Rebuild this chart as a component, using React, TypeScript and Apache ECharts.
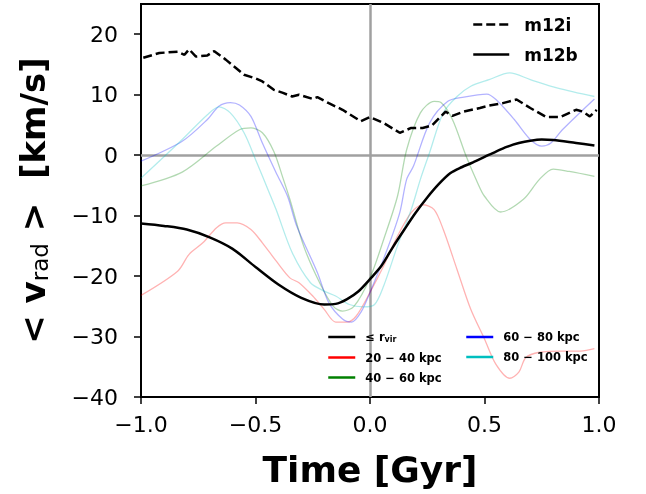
import React, { useEffect, useRef } from "react";
import * as echarts from "echarts";

const xTicks = [-1.0, -0.5, 0.0, 0.5, 1.0];
const yTicks = [-40, -30, -20, -10, 0, 10, 20];

const m12i: [number, number][] = [
  [-0.99, 16.1], [-0.92, 16.9], [-0.84, 17.1], [-0.81, 16.6], [-0.79, 17.5], [-0.76, 16.3],
  [-0.71, 16.5], [-0.68, 17.2], [-0.63, 15.8], [-0.55, 13.3], [-0.5, 12.7], [-0.47, 12.2],
  [-0.42, 10.8], [-0.38, 10.3], [-0.34, 9.7], [-0.31, 10.0], [-0.25, 9.3], [-0.23, 9.6],
  [-0.18, 8.6], [-0.12, 7.5], [-0.04, 5.6], [0.0, 6.3], [0.06, 5.3], [0.13, 3.7], [0.18, 4.5],
  [0.23, 4.5], [0.27, 4.9], [0.33, 7.2], [0.36, 6.5], [0.41, 7.2], [0.48, 7.8], [0.52, 8.2],
  [0.58, 8.6], [0.64, 9.2], [0.7, 7.8], [0.77, 6.3], [0.83, 6.3], [0.9, 7.5], [0.93, 7.2],
  [0.96, 6.4], [0.99, 7.5],
];

const m12b: [number, number][] = [
  [-1.0, -11.3], [-0.9, -11.7], [-0.8, -12.3], [-0.7, -13.6], [-0.6, -15.5], [-0.5, -18.5],
  [-0.4, -21.4], [-0.3, -23.6], [-0.2, -24.7], [-0.15, -24.6], [-0.1, -23.8], [-0.05, -22.5],
  [0.0, -20.5], [0.05, -18.3], [0.1, -15.2], [0.15, -12.3], [0.2, -9.5], [0.25, -7.0],
  [0.3, -4.8], [0.35, -3.0], [0.4, -2.0], [0.45, -1.2], [0.5, -0.3], [0.55, 0.6], [0.6, 1.4],
  [0.65, 2.0], [0.7, 2.4], [0.75, 2.6], [0.8, 2.5], [0.9, 2.0], [0.98, 1.6],
];

const red2040: [number, number][] = [
  [-1.0, -23.2], [-0.84, -19.2], [-0.79, -16.4], [-0.73, -14.5], [-0.67, -12.0], [-0.63, -11.2],
  [-0.58, -11.2], [-0.52, -12.3], [-0.47, -14.5], [-0.41, -17.5], [-0.35, -20.3], [-0.31, -21.1],
  [-0.25, -23.3], [-0.2, -25.5], [-0.15, -27.6], [-0.1, -27.6], [-0.06, -26.6], [0.0, -22.7],
  [0.06, -18.3], [0.12, -13.4], [0.18, -9.5], [0.23, -8.2], [0.28, -9.0], [0.32, -12.3],
  [0.38, -18.9], [0.44, -25.5], [0.5, -30.4], [0.55, -34.6], [0.61, -36.9], [0.65, -35.9],
  [0.68, -33.5], [0.74, -32.6], [0.84, -32.4], [0.92, -32.4], [0.98, -32.0],
];

const green4060: [number, number][] = [
  [-1.0, -5.1], [-0.82, -2.8], [-0.67, 1.5], [-0.57, 4.2], [-0.52, 4.5], [-0.47, 3.7],
  [-0.42, 0.6], [-0.38, -3.8], [-0.35, -7.3], [-0.29, -15.0], [-0.22, -21.1], [-0.16, -25.0],
  [-0.12, -25.8], [-0.07, -25.0], [0.0, -20.3], [0.06, -13.9], [0.12, -6.8], [0.16, 0.9],
  [0.22, 7.0], [0.28, 8.9], [0.31, 8.7], [0.36, 5.9], [0.42, -0.2], [0.47, -4.6], [0.5, -6.8],
  [0.57, -9.4], [0.67, -7.3], [0.74, -4.0], [0.8, -2.3], [0.87, -2.7], [0.98, -3.5],
];

const blue6080: [number, number][] = [
  [-1.0, -1.0], [-0.82, 2.3], [-0.71, 5.9], [-0.66, 8.1], [-0.61, 8.7], [-0.57, 8.3],
  [-0.52, 6.4], [-0.47, 2.0], [-0.41, -2.9], [-0.36, -6.8], [-0.32, -11.7], [-0.23, -19.4],
  [-0.18, -24.4], [-0.12, -27.1], [-0.08, -27.6], [-0.04, -26.0], [0.0, -22.7], [0.07, -16.1],
  [0.13, -9.5], [0.16, -4.0], [0.19, -1.8], [0.26, 5.3], [0.34, 8.9], [0.41, 9.6], [0.51, 10.1],
  [0.55, 9.2], [0.63, 5.9], [0.7, 2.6], [0.75, 1.5], [0.79, 2.0], [0.84, 4.2], [0.98, 9.3],
];

const cyan80100: [number, number][] = [
  [-1.0, -3.8], [-0.82, 2.6], [-0.71, 6.7], [-0.66, 8.0], [-0.61, 7.0], [-0.55, 3.7],
  [-0.5, -0.7], [-0.44, -6.2], [-0.41, -9.0], [-0.34, -16.1], [-0.26, -21.1], [-0.2, -22.5],
  [-0.15, -23.3], [-0.09, -24.7], [-0.03, -25.1], [0.02, -24.7], [0.06, -21.6], [0.12, -15.0],
  [0.18, -9.0], [0.22, -4.0], [0.26, 0.4], [0.32, 7.0], [0.38, 9.7], [0.44, 11.4], [0.52, 12.5],
  [0.61, 13.6], [0.7, 12.5], [0.82, 11.1], [0.98, 9.7],
];

const fmtNum = (v: number, d: number) => {
  const s = Math.abs(v).toFixed(d);
  return v < 0 ? "\u2212" + s : s;
};

export default function App() {
  const ref = useRef<HTMLDivElement>(null);
  useEffect(() => {
    if (!ref.current) return;
    const chart = echarts.init(ref.current, null, { renderer: "svg" });
    const font = "DejaVu Sans";
    const faint = (name: string, color: string, data: [number, number][]) => ({
      name,
      type: "line",
      data,
      smooth: 0.3,
      showSymbol: false,
      symbol: "none",
      color,
      lineStyle: { color, width: 1.3, opacity: 0.3 },
      z: 2,
    });
    const legendText = (size: number, pad: number) => ({
      fontSize: size, fontWeight: "bold", color: "#000", fontFamily: font, padding: [0, 0, 0, pad],
    });
    chart.setOption({
      animation: false,
      textStyle: { fontFamily: font },
      grid: {
        left: 141, right: 47, top: 4, bottom: 97,
        show: true, borderColor: "#000", borderWidth: 2, backgroundColor: "transparent",
      },
      xAxis: {
        type: "value", min: -1, max: 1, interval: 0.5,
        axisLine: { show: true, onZero: false, lineStyle: { color: "#000", width: 2 } },
        axisTick: { show: true, length: 7, customValues: xTicks, lineStyle: { color: "#000", width: 1.5 } },
        axisLabel: { fontSize: 22, color: "#000", margin: 16, fontFamily: font, customValues: xTicks, formatter: (v: number) => fmtNum(v, 1) },
        splitLine: { show: false },
        name: "Time [Gyr]", nameLocation: "middle", nameGap: 54,
        nameTextStyle: { fontSize: 36, fontWeight: "bold", color: "#000", fontFamily: font },
      },
      yAxis: {
        type: "value", min: -40, max: 25, interval: 10,
        axisLine: { show: true, onZero: false, lineStyle: { color: "#000", width: 2 } },
        axisTick: { show: true, length: 7, customValues: yTicks, lineStyle: { color: "#000", width: 1.5 } },
        axisLabel: { fontSize: 22, color: "#000", margin: 23, fontFamily: font, customValues: yTicks, formatter: (v: number) => fmtNum(v, 0) },
        splitLine: { show: false },
        name: "{b|< v}{s|rad}{b| >  [km/s]}", nameLocation: "middle", nameGap: 90, nameRotate: 90,
        nameTextStyle: {
          color: "#000", fontFamily: font,
          rich: {
            b: { fontSize: 34, fontWeight: "bold", color: "#000", fontFamily: font },
            s: { fontSize: 23, fontWeight: "normal", color: "#000", fontFamily: font, padding: [14, 0, 0, 0] },
          },
        },
      },
      legend: [
        {
          orient: "vertical", left: 472, top: 16, padding: 0, itemWidth: 36, itemHeight: 16, itemGap: 13,
          data: ["m12i", "m12b"],
          formatter: (n: string) => `{t|${n}}`,
          textStyle: {
            ...legendText(17, 0),
            rich: { t: { fontSize: 17, fontWeight: "bold", color: "#000", fontFamily: font, padding: [0, 0, 0, 10] } },
          },
          lineStyle: { width: 2.5, opacity: 1 },
          itemStyle: { opacity: 0 },
        },
        {
          orient: "vertical", left: 327, top: 331, padding: 0, itemWidth: 27, itemHeight: 14, itemGap: 8,
          data: ["≤ rvir", "20 − 40 kpc", "40 − 60 kpc"],
          formatter: (n: string) => (n === "≤ rvir" ? "{a|≤ r}{s|vir}" : n),
          textStyle: {
            ...legendText(11.5, 5),
            rich: {
              a: { fontSize: 11.5, fontWeight: "bold", color: "#000", fontFamily: font },
              s: { fontSize: 8, fontWeight: "bold", color: "#000", fontFamily: font, padding: [5, 0, 0, 0] },
            },
          },
          lineStyle: { width: 2.5, opacity: 1 },
          itemStyle: { opacity: 0 },
        },
        {
          orient: "vertical", left: 465, top: 331, padding: 0, itemWidth: 27, itemHeight: 14, itemGap: 8,
          data: ["60 − 80 kpc", "80 − 100 kpc"],
          textStyle: legendText(11.5, 5),
          lineStyle: { width: 2.5, opacity: 1 },
          itemStyle: { opacity: 0 },
        },
      ],
      series: [
        {
          name: "zero", type: "line", data: [], z: 1, silent: true,
          markLine: {
            z: 1, silent: true, symbol: "none", label: { show: false },
            lineStyle: { color: "#a0a0a0", width: 2.5, type: "solid" },
            data: [{ xAxis: 0 }, { yAxis: 0 }],
          },
        },
        faint("20 − 40 kpc", "#ff0000", red2040),
        faint("40 − 60 kpc", "#008000", green4060),
        faint("60 − 80 kpc", "#0000ff", blue6080),
        faint("80 − 100 kpc", "#00bfbf", cyan80100),
        {
          name: "≤ rvir", type: "line", data: [], symbol: "none", color: "#000",
          lineStyle: { color: "#000", width: 2.5 },
        },
        {
          name: "m12i", type: "line", data: m12i, symbol: "none", showSymbol: false, color: "#000",
          lineStyle: { color: "#000", width: 2.5, type: [9, 4] }, z: 3,
        },
        {
          name: "m12b", type: "line", data: m12b, smooth: 0.3, symbol: "none", showSymbol: false, color: "#000",
          lineStyle: { color: "#000", width: 2.5 }, z: 3,
        },
      ],
    });
    return () => chart.dispose();
  }, []);
  return <div ref={ref} style={{ position: "fixed", left: 0, top: 0, width: 646, height: 494 }} />;
}
